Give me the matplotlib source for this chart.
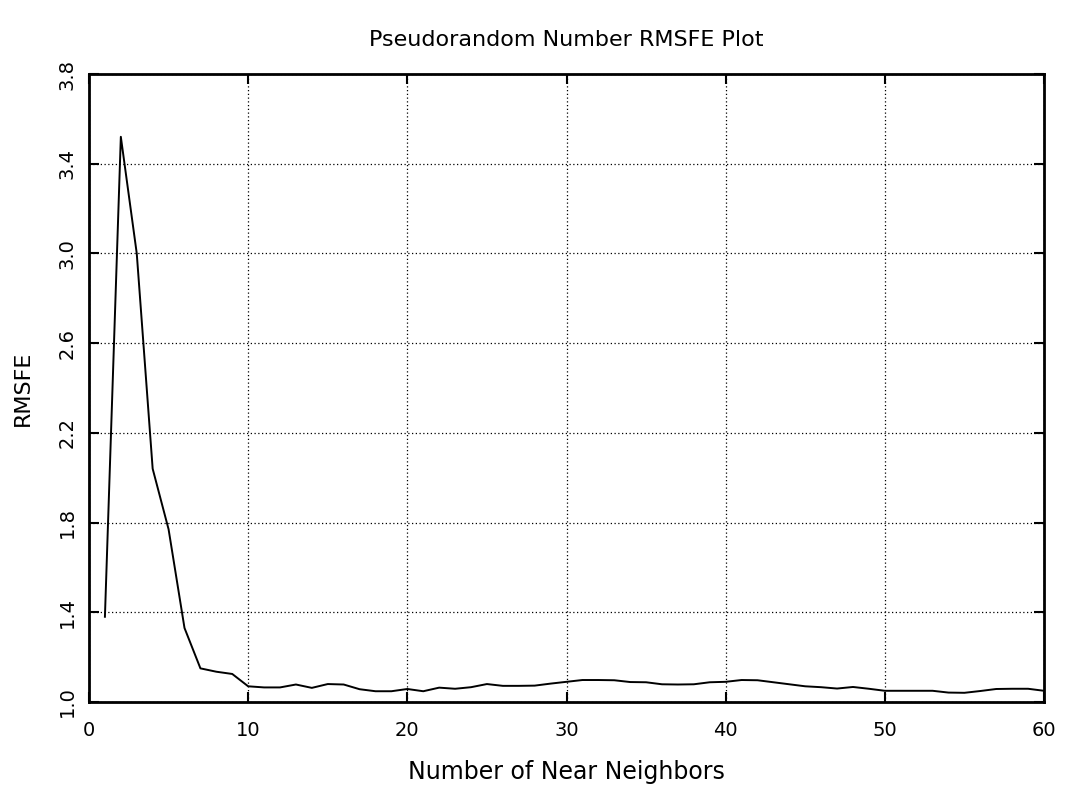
import numpy as np
import matplotlib
matplotlib.use('Agg')
import matplotlib.pyplot as plt

# RMSFE vs number of near neighbors
neighbors = list(range(1, 61))
rmsfe = [1.38, 3.52, 3.00, 2.04, 1.77, 1.33, 1.15, 1.135, 1.125, 1.07,
         1.065, 1.065, 1.078, 1.063, 1.080, 1.078, 1.057, 1.048, 1.048, 1.058,
         1.048, 1.064, 1.059, 1.066, 1.080, 1.072, 1.072, 1.073, 1.082, 1.090,
         1.098, 1.098, 1.097, 1.089, 1.088, 1.079, 1.078, 1.079, 1.088, 1.090,
         1.098, 1.097, 1.088, 1.079, 1.070, 1.066, 1.060, 1.067, 1.059, 1.050,
         1.050, 1.050, 1.050, 1.042, 1.041, 1.049, 1.058, 1.059, 1.059, 1.050]

x_ticks = [0, 10, 20, 30, 40, 50, 60]
y_ticks = [1.0, 1.4, 1.8, 2.2, 2.6, 3.0, 3.4, 3.8]

fig = plt.figure(figsize=(10.69, 7.89), dpi=100)
ax = fig.add_axes([89 / 1069, 1 - 702 / 789, (1044 - 89) / 1069, (702 - 74) / 789])

ax.plot(neighbors, rmsfe, color='black', linewidth=1.4)

ax.set_xlim(0, 60)
ax.set_ylim(1.0, 3.8)
ax.set_xticks(x_ticks)
ax.set_yticks(y_ticks)
ax.set_xticklabels([str(t) for t in x_ticks])
ax.set_yticklabels([f"{t:.1f}" for t in y_ticks], rotation=90, va='center')

ax.grid(True, linestyle=(0, (1, 2)), color='black', linewidth=0.9)
ax.tick_params(direction='in', length=7, width=1.5, top=True, right=True,
               labelsize=14, colors='black')
ax.tick_params(axis='x', pad=14)
ax.tick_params(axis='y', pad=9)
for s in ax.spines.values():
    s.set_linewidth(2)

ax.set_title('Pseudorandom Number RMSFE Plot', fontsize=16, pad=20)
ax.set_xlabel('Number of Near Neighbors', fontsize=17, labelpad=14)
ax.set_ylabel('RMSFE', fontsize=16, labelpad=18)

fig.savefig('out.png', dpi=100)
